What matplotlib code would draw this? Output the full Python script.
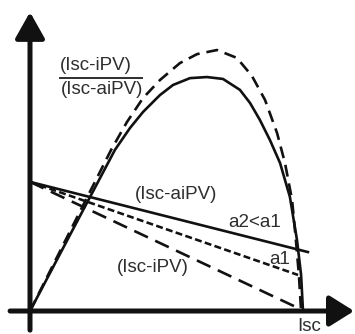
import matplotlib
matplotlib.use("Agg")
import matplotlib.pyplot as plt

plt.rcParams['font.family'] = ['Liberation Sans', 'DejaVu Sans']
plt.rcParams['lines.scale_dashes'] = False

# curva cheia (Isc-iPV)/(Isc-aiPV), x normalizado por Isc
curve_x = [0, 0.154, 0.311, 0.366, 0.414, 0.476, 0.524, 0.586, 0.648, 0.707,
           0.769, 0.806, 0.842, 0.879, 0.916, 0.952, 0.978, 0.993, 1.0]
curve_y = [0, 0.293, 0.590, 0.670, 0.729, 0.791, 0.828, 0.853, 0.857, 0.850,
           0.810, 0.762, 0.700, 0.626, 0.542, 0.418, 0.260, 0.132, 0]

# curva tracejada
dash_x = [0, 0.147, 0.297, 0.355, 0.414, 0.476, 0.549, 0.612, 0.685, 0.758,
          0.813, 0.861, 0.905, 0.934, 0.960, 0.974, 0.985, 0.993]
dash_y = [0, 0.293, 0.590, 0.692, 0.780, 0.846, 0.908, 0.941, 0.956, 0.927,
          0.861, 0.773, 0.652, 0.542, 0.407, 0.260, 0.132, 0]

# retas: (Isc-aiPV) com a2<a1, com a1 e (Isc-iPV)
line_a2_x = [0, 1.018]
line_a2_y = [0.473, 0.216]
line_a1_x = [0, 0.982]
line_a1_y = [0.473, 0.132]
line_i_x = [0, 0.982]
line_i_y = [0.473, 0.011]

fig = plt.figure(figsize=(3.55, 3.34), dpi=100)
ax = fig.add_axes([0, 0, 1, 1])
ax.set_xlim(-0.1099, 1.1905)
ax.set_ylim(-0.0842, 1.1392)
ax.axis('off')

ink = '#111111'
txt = '#2e2e2e'

ax.plot(curve_x, curve_y, color=ink, lw=1.9)
ax.plot(dash_x, dash_y, color=ink, lw=1.9, dashes=(8.6, 5.0))
ax.plot(line_a2_x, line_a2_y, color=ink, lw=1.9)
ax.plot(line_a1_x, line_a1_y, color=ink, lw=1.85, dashes=(5.0, 2.4))
ax.plot(line_i_x, line_i_y, color=ink, lw=1.9, dashes=(10.8, 5.8))

# eixos com setas
ax.annotate('', xy=(0, 1.095), xytext=(0, -0.070),
            arrowprops=dict(arrowstyle='-|>,head_length=0.8,head_width=0.45',
                            mutation_scale=20, lw=3.6, color=ink,
                            shrinkA=0, shrinkB=0))
ax.annotate('', xy=(1.187, 0), xytext=(-0.073, 0),
            arrowprops=dict(arrowstyle='-|>,head_length=0.75,head_width=0.47',
                            mutation_scale=20, lw=3.6, color=ink,
                            shrinkA=0, shrinkB=0))

fs = 13.5
ax.text(0.242, 0.901, '(Isc-iPV)', fontsize=fs, color=txt, ha='center', va='center')
ax.plot([0.110, 0.410], [0.853, 0.853], color=txt, lw=1.4)
ax.text(0.264, 0.810, '(Isc-aiPV)', fontsize=fs, color=txt, ha='center', va='center')
ax.text(0.535, 0.425, '(Isc-aiPV)', fontsize=fs, color=txt, ha='center', va='center')
ax.text(0.821, 0.326, 'a2<a1', fontsize=fs, color=txt, ha='center', va='center')
ax.text(0.916, 0.190, 'a1', fontsize=fs, color=txt, ha='center', va='center')
ax.text(0.451, 0.158, '(Isc-iPV)', fontsize=fs, color=txt, ha='center', va='center')
ax.text(1.022, -0.056, 'Isc', fontsize=fs, color=txt, ha='center', va='center')

plt.savefig('out.png', dpi=100)
